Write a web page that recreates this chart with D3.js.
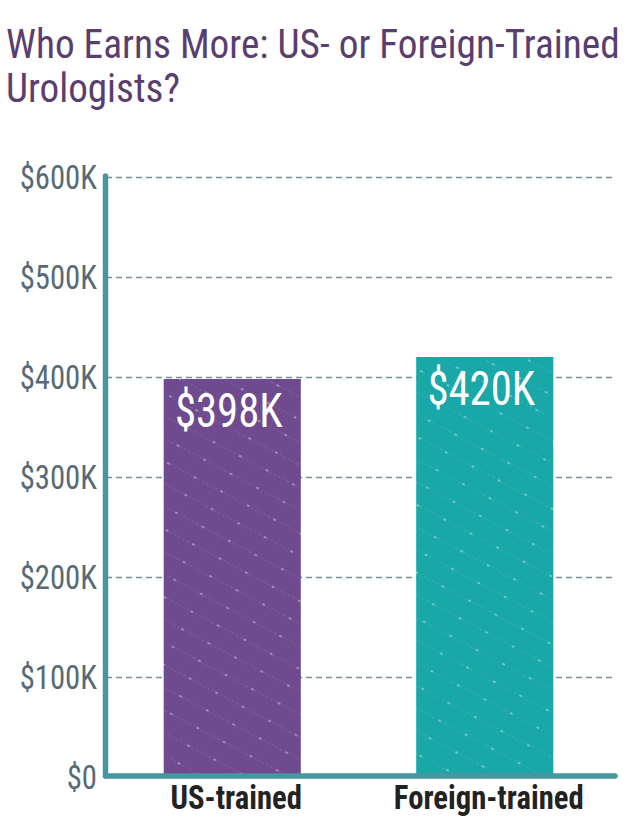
<!DOCTYPE html>
<html>
<head>
<meta charset="utf-8">
<script src="https://cdn.jsdelivr.net/npm/d3@7"></script>
<style>
  html, body { margin: 0; padding: 0; background: #fff; }
  svg { display: block; }
  text { font-family: "Roboto Condensed", Roboto, "Noto Sans", sans-serif; }
</style>
</head>
<body>
<svg id="chart" width="640" height="837"></svg>
<script>
// ---- data ----
const categories = ["US-trained", "Foreign-trained"];
const values = [398000, 420000];
const valueLabels = ["$398K", "$420K"];
const yTicks = [0, 100000, 200000, 300000, 400000, 500000, 600000];
const yTickLabels = ["$0", "$100K", "$200K", "$300K", "$400K", "$500K", "$600K"];
const titleLines = ["Who Earns More: US- or Foreign-Trained", "Urologists?"];

// ---- style ----
const barColors = ["#6f4a8e", "#19a7a8"];

const svg = d3.select("#chart");
const plot = { left: 106, right: 615, top: 177, bottom: 777 };

const x = d3.scaleBand().domain(categories).range([plot.left, plot.right - 4])
  .paddingInner(0.457).paddingOuter(0.2285);
const y = d3.scaleLinear().domain([0, 600000]).range([plot.bottom, plot.top]);

// pattern defs
const defs = svg.append("defs");
barColors.forEach((c, i) => {
  const p = defs.append("pattern").attr("id", "pat" + i)
    .attr("patternUnits", "userSpaceOnUse").attr("width", 60).attr("height", 20)
    .attr("patternTransform", "rotate(28)");
  p.append("rect").attr("width", 60).attr("height", 20).attr("fill", c);
  p.append("line").attr("x1", 0).attr("x2", 60).attr("y1", 10).attr("y2", 10)
    .attr("stroke", "#ffffff").attr("stroke-opacity", 0.16).attr("stroke-width", 1)
    .attr("stroke-dasharray", "1.5,3");
  p.append("line").attr("x1", 5).attr("x2", 8).attr("y1", 10).attr("y2", 10)
    .attr("stroke", "#ffffff").attr("stroke-opacity", 0.45).attr("stroke-width", 1.4);
  p.append("line").attr("x1", 35).attr("x2", 38).attr("y1", 10).attr("y2", 10)
    .attr("stroke", "#ffffff").attr("stroke-opacity", 0.45).attr("stroke-width", 1.4);
});

// title (horizontally condensed to the reference widths)
const titleWidths = [614, 174];
svg.append("g").selectAll("text").data(titleLines).join("text")
  .attr("x", 0).attr("y", 0)
  .attr("font-size", 41).attr("fill", "#5a3e6e")
  .text(d => d)
  .each(function (d, i) {
    const w = this.getComputedTextLength();
    const k = titleWidths[i] / w;
    d3.select(this).attr("transform", `translate(6,${58 + i * 44}) scale(${k},1)`);
  });

// gridlines
const grid = svg.append("g").attr("transform", `translate(${plot.left},0)`)
  .call(d3.axisRight(y).tickValues(yTicks.filter(t => t > 0))
    .tickSize(plot.right - plot.left).tickFormat(""));
grid.select(".domain").remove();
grid.selectAll(".tick line").attr("stroke", "#778d98").attr("stroke-width", 1.6)
  .attr("stroke-dasharray", "6,4");

// bars
svg.append("g").selectAll("rect").data(categories).join("rect")
  .attr("x", d => x(d)).attr("width", x.bandwidth())
  .attr("y", (d, i) => y(values[i])).attr("height", (d, i) => y(0) - y(values[i]))
  .attr("fill", (d, i) => `url(#pat${i})`);

// value labels
const vScale = 0.89;
svg.append("g").selectAll("text").data(categories).join("text")
  .attr("transform", (d, i) => `translate(${x(d) + x.bandwidth() / 2 - 3.5},${y(values[i]) + 48}) scale(${vScale},1)`)
  .attr("text-anchor", "middle").attr("font-size", 48).attr("fill", "#ffffff")
  .text((d, i) => valueLabels[i]);

// y axis (tick labels)
const tScale = 0.93;
const yAxis = svg.append("g").attr("transform", `translate(${plot.left},0)`)
  .call(d3.axisLeft(y).tickValues(yTicks).tickSize(0).tickPadding(9)
    .tickFormat((d, i) => yTickLabels[i]));
yAxis.select(".domain").remove();
yAxis.selectAll(".tick text")
  .attr("font-size", 33).attr("fill", "#566b76")
  .attr("font-family", '"Roboto Condensed", Roboto, sans-serif')
  .attr("x", -9 / tScale).attr("dy", "0.36em")
  .attr("transform", `scale(${tScale},1)`);

// axis lines
svg.append("line").attr("x1", plot.left - 0.5).attr("x2", plot.left - 0.5)
  .attr("y1", plot.top - 1).attr("y2", plot.bottom - 1)
  .attr("stroke", "#4896a0").attr("stroke-width", 5.5).attr("stroke-linecap", "round");
svg.append("line").attr("x1", plot.left - 0.5).attr("x2", plot.right)
  .attr("y1", plot.bottom - 1).attr("y2", plot.bottom - 1)
  .attr("stroke", "#4896a0").attr("stroke-width", 5.5).attr("stroke-linecap", "round");

// x axis category labels
const cScale = 0.93;
const xAxis = svg.append("g").attr("transform", `translate(4,${plot.bottom})`)
  .call(d3.axisBottom(x).tickSize(0).tickPadding(0));
xAxis.select(".domain").remove();
xAxis.selectAll(".tick text")
  .attr("font-size", 33).attr("font-weight", "bold").attr("fill", "#222222")
  .attr("font-family", '"Roboto Condensed", Roboto, sans-serif')
  .attr("y", 32).attr("dy", 0)
  .attr("transform", `scale(${cScale},1)`);
</script>
</body>
</html>
